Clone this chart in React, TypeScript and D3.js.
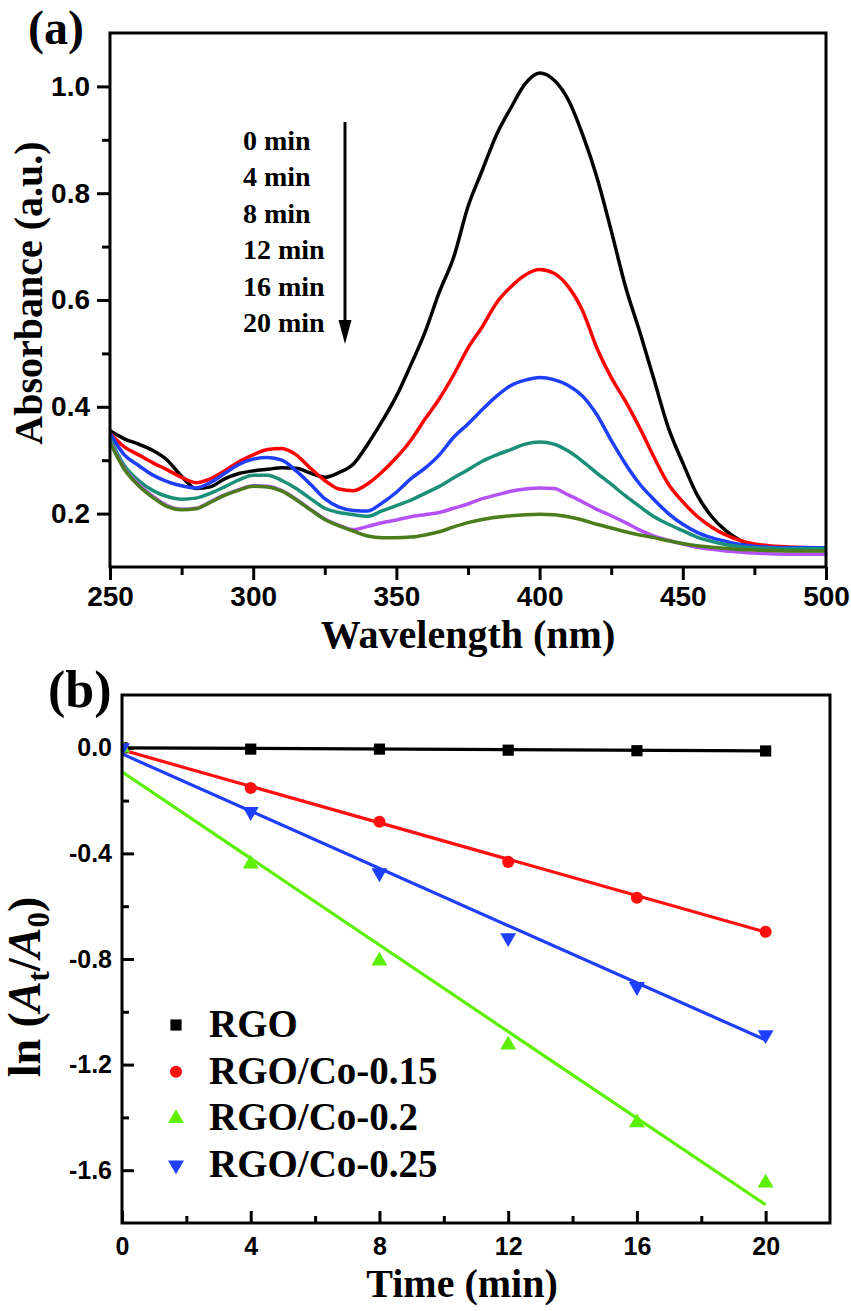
import { useEffect, useRef } from 'react';
import * as d3 from 'd3';

// panel (a): UV-vis spectra
const wavelength = [250, 255, 260, 265, 270, 275, 280, 285, 290, 295, 300, 305, 310, 315, 320, 325, 330, 335, 340, 345, 350, 355, 360, 365, 370, 375, 380, 385, 390, 395, 400, 405, 410, 415, 420, 425, 430, 435, 440, 445, 450, 455, 460, 465, 470, 475, 480, 490, 500];
const abs0 = [0.355, 0.34, 0.33, 0.318, 0.3, 0.27, 0.247, 0.25, 0.265, 0.275, 0.28, 0.283, 0.286, 0.285, 0.276, 0.268, 0.277, 0.293, 0.33, 0.373, 0.42, 0.478, 0.54, 0.615, 0.68, 0.775, 0.843, 0.91, 0.96, 1.005, 1.025, 1.012, 0.975, 0.91, 0.83, 0.73, 0.625, 0.54, 0.45, 0.36, 0.295, 0.235, 0.195, 0.168, 0.15, 0.14, 0.137, 0.135, 0.135];
const abs4 = [0.35, 0.325, 0.31, 0.295, 0.282, 0.268, 0.258, 0.265, 0.28, 0.297, 0.31, 0.32, 0.322, 0.31, 0.285, 0.262, 0.246, 0.243, 0.256, 0.278, 0.305, 0.337, 0.377, 0.415, 0.46, 0.51, 0.55, 0.595, 0.625, 0.647, 0.657, 0.65, 0.625, 0.58, 0.51, 0.455, 0.41, 0.36, 0.305, 0.255, 0.222, 0.195, 0.175, 0.16, 0.15, 0.143, 0.14, 0.137, 0.136];
const abs8 = [0.35, 0.31, 0.29, 0.272, 0.26, 0.252, 0.248, 0.258, 0.275, 0.292, 0.302, 0.305, 0.3, 0.28, 0.255, 0.228, 0.212, 0.206, 0.205, 0.22, 0.24, 0.265, 0.285, 0.31, 0.343, 0.368, 0.395, 0.42, 0.44, 0.45, 0.455, 0.451, 0.44, 0.42, 0.385, 0.337, 0.293, 0.255, 0.226, 0.2, 0.18, 0.165, 0.155, 0.148, 0.142, 0.139, 0.137, 0.136, 0.136];
const abs12 = [0.34, 0.29, 0.262, 0.243, 0.232, 0.227, 0.229, 0.238, 0.25, 0.263, 0.272, 0.272, 0.262, 0.247, 0.228, 0.21, 0.202, 0.198, 0.195, 0.205, 0.215, 0.225, 0.238, 0.251, 0.267, 0.282, 0.298, 0.31, 0.32, 0.33, 0.334, 0.33, 0.317, 0.298, 0.276, 0.255, 0.233, 0.213, 0.194, 0.18, 0.168, 0.156, 0.148, 0.142, 0.138, 0.136, 0.135, 0.134, 0.134];
const abs16 = [0.335, 0.285, 0.255, 0.232, 0.215, 0.208, 0.21, 0.222, 0.235, 0.245, 0.252, 0.251, 0.243, 0.227, 0.208, 0.19, 0.178, 0.17, 0.176, 0.183, 0.188, 0.194, 0.198, 0.202, 0.21, 0.218, 0.228, 0.235, 0.242, 0.246, 0.248, 0.247, 0.235, 0.222, 0.208, 0.196, 0.183, 0.169, 0.158, 0.15, 0.143, 0.137, 0.133, 0.13, 0.128, 0.126, 0.125, 0.124, 0.124];
const abs20 = [0.333, 0.283, 0.252, 0.23, 0.213, 0.207, 0.209, 0.221, 0.234, 0.244, 0.251, 0.25, 0.242, 0.226, 0.207, 0.189, 0.177, 0.167, 0.158, 0.155, 0.155, 0.156, 0.16, 0.166, 0.175, 0.183, 0.189, 0.193, 0.196, 0.198, 0.199, 0.198, 0.194, 0.188, 0.18, 0.173, 0.166, 0.16, 0.155, 0.149, 0.144, 0.14, 0.137, 0.135, 0.133, 0.132, 0.131, 0.13, 0.13];
const spectraLabels = ['0 min', '4 min', '8 min', '12 min', '16 min', '20 min'];
const spectraColors = ['#000000', '#ff0000', '#1f3fff', '#1b8f78', '#b452f5', '#4c7d1c'];
const wlTicks = [250, 300, 350, 400, 450, 500];
const wlMinor = [275, 325, 375, 425, 475];
const absTicks = [0.2, 0.4, 0.6, 0.8, 1.0];
const absMinor = [0.3, 0.5, 0.7, 0.9];

// panel (b): kinetics
const timeMin = [0, 4, 8, 12, 16, 20];
const lnRGO = [0, -0.005, -0.005, -0.009, -0.011, -0.012];
const lnCo015 = [0, -0.152, -0.28, -0.432, -0.568, -0.697];
const lnCo02 = [0, -0.44, -0.807, -1.125, -1.42, -1.648];
const lnCo025 = [0, -0.242, -0.474, -0.72, -0.905, -1.087];
const kinLabels = ['RGO', 'RGO/Co-0.15', 'RGO/Co-0.2', 'RGO/Co-0.25'];
const kinColors = ['#000000', '#ff1010', '#5cf000', '#1f3fff'];
const fitIntercept = [0, -0.008, -0.091, -0.023];
const fitSlope = [-0.0006, -0.0345, -0.082, -0.0542];
const timeTicks = [0, 4, 8, 12, 16, 20];
const timeMinor = [2, 6, 10, 14, 18];
const lnTicks = [0, -0.4, -0.8, -1.2, -1.6];
const lnMinor = [-0.2, -0.6, -1.0, -1.4];

const SERIF = "'Liberation Serif', 'Times New Roman', serif";
const SANS = "'Liberation Sans', Arial, sans-serif";

export default function App() {
  const svgRef = useRef(null);

  useEffect(() => {
    document.body.style.margin = '0';
    const svg = d3.select(svgRef.current);
    svg.selectAll('*').remove();

    const styleAxis = (g, size) => {
      g.select('.domain').remove();
      g.selectAll('line').attr('stroke', '#000').attr('stroke-width', 3);
      g.selectAll('text')
        .attr('font-family', SANS)
        .attr('font-size', size)
        .attr('font-weight', 'bold')
        .attr('fill', '#000');
    };

    // ---------- (a) ----------
    const xA = d3.scaleLinear().domain([250, 500]).range([110, 826]);
    const yA = d3.scaleLinear().domain([0.1, 1.1]).range([567, 33]);

    svg.append('g').attr('transform', 'translate(0,567)')
      .call(d3.axisBottom(xA).tickValues(wlTicks).tickSize(13).tickPadding(6).tickFormat(d3.format('d')))
      .call(g => styleAxis(g, 28));
    svg.append('g').attr('transform', 'translate(0,567)')
      .call(d3.axisBottom(xA).tickValues(wlMinor).tickSize(8).tickFormat(() => ''))
      .call(g => styleAxis(g, 28));
    svg.append('g').attr('transform', 'translate(110,0)')
      .call(d3.axisLeft(yA).tickValues(absTicks).tickSize(13).tickPadding(7).tickFormat(d3.format('.1f')))
      .call(g => styleAxis(g, 28));
    svg.append('g').attr('transform', 'translate(110,0)')
      .call(d3.axisLeft(yA).tickValues(absMinor).tickSize(8).tickFormat(() => ''))
      .call(g => styleAxis(g, 28));

    const spectra = [abs0, abs4, abs8, abs12, abs16, abs20];
    const lineA = d3.line()
      .x((d, i) => xA(wavelength[i]))
      .y(d => yA(d))
      .curve(d3.curveMonotoneX);
    spectra.forEach((s, i) => {
      svg.append('path')
        .datum(s)
        .attr('fill', 'none')
        .attr('stroke', spectraColors[i])
        .attr('stroke-width', 3.5)
        .attr('stroke-linejoin', 'round')
        .attr('d', lineA);
    });

    svg.append('rect')
      .attr('x', 110).attr('y', 33).attr('width', 716).attr('height', 534)
      .attr('fill', 'none').attr('stroke', '#000').attr('stroke-width', 3);

    // legend with arrow
    const legA = svg.append('g');
    spectraLabels.forEach((t, i) => {
      legA.append('text')
        .attr('x', 243).attr('y', 150 + i * 36.4)
        .attr('font-family', SERIF).attr('font-weight', 'bold').attr('font-size', 28)
        .text(t);
    });
    legA.append('line')
      .attr('x1', 345).attr('x2', 345).attr('y1', 122).attr('y2', 324)
      .attr('stroke', '#000').attr('stroke-width', 3);
    legA.append('path')
      .attr('d', 'M338.5,320 L351.5,320 L345,344 Z')
      .attr('fill', '#000');

    svg.append('text')
      .attr('x', 28).attr('y', 44)
      .attr('font-family', SERIF).attr('font-weight', 'bold').attr('font-size', 48)
      .text('(a)');
    svg.append('text')
      .attr('x', 468).attr('y', 648).attr('text-anchor', 'middle')
      .attr('font-family', SERIF).attr('font-weight', 'bold').attr('font-size', 40)
      .text('Wavelength (nm)');
    svg.append('text')
      .attr('transform', 'translate(42,293) rotate(-90)').attr('text-anchor', 'middle')
      .attr('font-family', SERIF).attr('font-weight', 'bold').attr('font-size', 40)
      .text('Absorbance (a.u.)');

    // ---------- (b) ----------
    const xB = d3.scaleLinear().domain([0, 22]).range([122, 830]);
    const yB = d3.scaleLinear().domain([-1.8, 0.2]).range([1223, 695]);

    svg.append('g').attr('transform', 'translate(0,1223)')
      .call(d3.axisBottom(xB).tickValues(timeTicks).tickSizeInner(-12).tickSizeOuter(0).tickPadding(14).tickFormat(d3.format('d')))
      .call(g => styleAxis(g, 25));
    svg.append('g').attr('transform', 'translate(0,1223)')
      .call(d3.axisBottom(xB).tickValues(timeMinor).tickSizeInner(-7).tickSizeOuter(0).tickFormat(() => ''))
      .call(g => styleAxis(g, 25));
    svg.append('g').attr('transform', 'translate(122,0)')
      .call(d3.axisLeft(yB).tickValues(lnTicks).tickSizeInner(-12).tickSizeOuter(0).tickPadding(10).tickFormat(d3.format('.1f')))
      .call(g => styleAxis(g, 25));
    svg.append('g').attr('transform', 'translate(122,0)')
      .call(d3.axisLeft(yB).tickValues(lnMinor).tickSizeInner(-7).tickSizeOuter(0).tickFormat(() => ''))
      .call(g => styleAxis(g, 25));
    // d3 prints minus as U+2212; the figure uses a plain hyphen
    svg.selectAll('text').each(function () {
      const el = d3.select(this);
      const t = el.text().replace('\u2212', '-');
      el.text(t === '-0.0' ? '0.0' : t);
    });

    svg.append('clipPath').attr('id', 'clipB')
      .append('rect').attr('x', 122).attr('y', 695).attr('width', 708).attr('height', 528);

    const kin = [lnRGO, lnCo015, lnCo02, lnCo025];
    const symbols = [
      d3.symbol().type(d3.symbolSquare).size(125),
      d3.symbol().type(d3.symbolCircle).size(115),
      d3.symbol().type(d3.symbolTriangle).size(110),
      d3.symbol().type(d3.symbolTriangle).size(110),
    ];
    const rot = [0, 0, 0, 180];
    const plotB = svg.append('g').attr('clip-path', 'url(#clipB)');
    const fitLine = d3.line().x(d => xB(d[0])).y(d => yB(d[1]));
    kin.forEach((s, i) => {
      const t0 = timeMin[0];
      const t1 = timeMin[timeMin.length - 1];
      plotB.append('path')
        .datum([[t0, fitIntercept[i] + fitSlope[i] * t0], [t1, fitIntercept[i] + fitSlope[i] * t1]])
        .attr('fill', 'none')
        .attr('stroke', kinColors[i])
        .attr('stroke-width', 3.2)
        .attr('d', fitLine);
    });
    kin.forEach((s, i) => {
      plotB.selectAll(null)
        .data(s)
        .enter()
        .append('path')
        .attr('d', symbols[i]())
        .attr('fill', kinColors[i])
        .attr('transform', (d, j) => `translate(${xB(timeMin[j])},${yB(d)}) rotate(${rot[i]})`);
    });

    // legend (b)
    const legB = svg.append('g');
    kinLabels.forEach((t, i) => {
      const cy = 1025 + i * 46.7;
      legB.append('path')
        .attr('d', symbols[i]())
        .attr('fill', kinColors[i])
        .attr('transform', `translate(176,${cy}) rotate(${rot[i]})`);
      legB.append('text')
        .attr('x', 209).attr('y', cy + 12)
        .attr('font-family', SERIF).attr('font-weight', 'bold').attr('font-size', 39)
        .text(t);
    });

    svg.append('rect')
      .attr('x', 122).attr('y', 695).attr('width', 708).attr('height', 528)
      .attr('fill', 'none').attr('stroke', '#000').attr('stroke-width', 3);

    svg.append('text')
      .attr('x', 48).attr('y', 707)
      .attr('font-family', SERIF).attr('font-weight', 'bold').attr('font-size', 52)
      .text('(b)');
    svg.append('text')
      .attr('x', 462).attr('y', 1297).attr('text-anchor', 'middle')
      .attr('font-family', SERIF).attr('font-weight', 'bold').attr('font-size', 40)
      .text('Time (min)');

    const yl = svg.append('text')
      .attr('transform', 'translate(40,987) rotate(-90)').attr('text-anchor', 'middle')
      .attr('font-family', SERIF).attr('font-weight', 'bold').attr('font-size', 46);
    yl.append('tspan').text('ln (');
    yl.append('tspan').attr('font-style', 'italic').text('A');
    yl.append('tspan').attr('font-size', 31).attr('dy', 9).text('t');
    yl.append('tspan').attr('dy', -9).text('/');
    yl.append('tspan').attr('font-style', 'italic').text('A');
    yl.append('tspan').attr('font-size', 31).attr('dy', 9).text('0');
    yl.append('tspan').attr('dy', -9).text(')');
  }, []);

  return <svg ref={svgRef} width={851} height={1311} style={{ display: 'block', background: '#fff' }}></svg>;
}
